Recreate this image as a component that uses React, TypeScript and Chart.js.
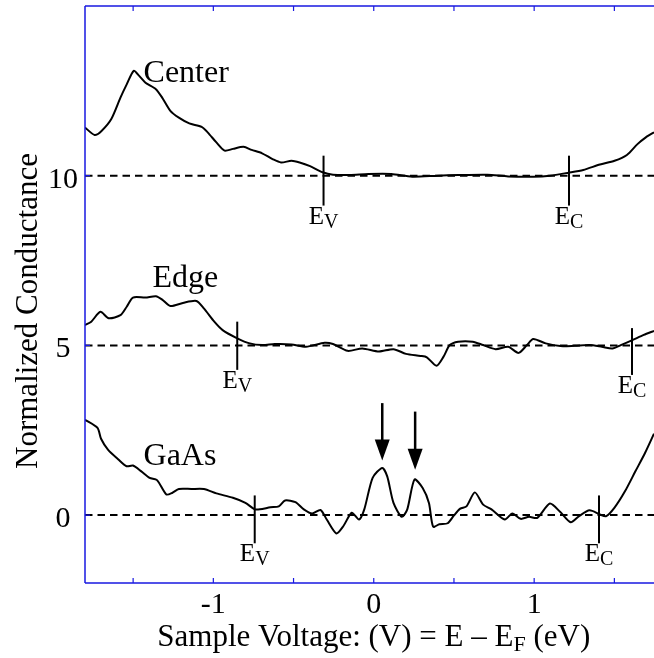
import React, { useEffect, useRef } from "react";
import { Chart, registerables } from "chart.js";

Chart.register(...registerables);

// ---- axis ranges / ticks ----
const X_MIN = -1.8;
const X_MAX = 1.747;
const Y_MIN = -2;
const Y_MAX = 15;
const xTickValues = [-1.5, -1, -0.5, 0, 0.5, 1, 1.5];
const xTickLabels = ["", "-1", "", "0", "", "1", ""];
const yTickValues = [0, 5, 10];
const yTickLabels = ["0", "5", "10"];
const baselineLevels = [0, 5, 10];

// ---- series ----
const centerX = [-1.80, -1.74, -1.697, -1.636, -1.579, -1.54, -1.496, -1.462, -1.423, -1.358, -1.319, -1.268, -1.215, -1.150, -1.073, -1.034, -0.981, -0.930, -0.878, -0.812, -0.761, -0.696, -0.631, -0.578, -0.513, -0.462, -0.397, -0.319, -0.254, -0.150, -0.033, 0.110, 0.240, 0.396, 0.526, 0.708, 0.838, 0.994, 1.098, 1.215, 1.306, 1.410, 1.501, 1.578, 1.644, 1.696, 1.747];
const centerY = [11.42, 11.20, 11.32, 11.67, 12.30, 12.69, 13.09, 12.94, 12.74, 12.55, 12.30, 11.91, 11.71, 11.54, 11.44, 11.27, 10.98, 10.74, 10.79, 10.85, 10.76, 10.66, 10.49, 10.39, 10.44, 10.39, 10.28, 10.10, 10.03, 10.02, 10.05, 10.05, 9.97, 10.00, 10.02, 10.03, 9.98, 9.97, 10.00, 10.09, 10.17, 10.33, 10.44, 10.61, 10.93, 11.13, 11.28];

const edgeX = [-1.80, -1.761, -1.704, -1.652, -1.579, -1.540, -1.501, -1.423, -1.358, -1.319, -1.268, -1.190, -1.106, -1.059, -0.994, -0.942, -0.851, -0.773, -0.695, -0.617, -0.513, -0.423, -0.306, -0.254, -0.163, -0.072, 0.032, 0.123, 0.201, 0.292, 0.331, 0.391, 0.435, 0.474, 0.526, 0.617, 0.682, 0.760, 0.838, 0.903, 0.955, 0.994, 1.072, 1.163, 1.254, 1.345, 1.422, 1.488, 1.540, 1.605, 1.683, 1.747];
const edgeY = [5.60, 5.70, 5.99, 5.80, 5.89, 6.14, 6.41, 6.41, 6.45, 6.35, 6.16, 6.25, 6.31, 6.09, 5.70, 5.45, 5.21, 5.06, 5.01, 5.04, 5.03, 4.96, 5.08, 5.04, 4.84, 4.91, 4.82, 4.89, 4.75, 4.69, 4.65, 4.40, 4.67, 5.01, 5.11, 5.11, 5.01, 4.89, 4.96, 4.78, 5.01, 5.19, 5.06, 4.98, 4.99, 5.01, 4.96, 4.91, 5.01, 5.14, 5.31, 5.43];

const gaasX = [-1.80, -1.722, -1.70, -1.657, -1.592, -1.541, -1.501, -1.449, -1.397, -1.351, -1.293, -1.255, -1.215, -1.137, -1.059, -0.981, -0.878, -0.800, -0.742, -0.709, -0.644, -0.592, -0.553, -0.488, -0.436, -0.384, -0.332, -0.293, -0.233, -0.189, -0.137, -0.092, -0.059, -0.007, 0.053, 0.084, 0.123, 0.175, 0.209, 0.254, 0.305, 0.344, 0.370, 0.409, 0.461, 0.500, 0.539, 0.578, 0.630, 0.682, 0.734, 0.817, 0.864, 0.916, 0.968, 1.020, 1.098, 1.163, 1.228, 1.280, 1.345, 1.410, 1.449, 1.501, 1.566, 1.631, 1.691, 1.747];
const gaasY = [2.81, 2.57, 2.25, 1.93, 1.64, 1.44, 1.46, 1.29, 1.10, 1.03, 0.61, 0.66, 0.77, 0.77, 0.77, 0.64, 0.51, 0.36, 0.17, 0.17, 0.23, 0.26, 0.43, 0.38, 0.17, 0.05, 0.15, -0.13, -0.54, -0.32, 0.07, -0.13, 0.17, 1.10, 1.39, 1.14, 0.36, -0.05, 0.17, 1.05, 0.80, 0.36, -0.34, -0.27, -0.24, -0.01, 0.19, 0.26, 0.67, 0.31, 0.17, -0.13, 0.05, -0.11, -0.05, -0.08, 0.34, 0.09, -0.21, -0.03, 0.14, 0.02, -0.03, 0.22, 0.70, 1.29, 1.83, 2.40];

// ---- annotations ----
const curveNames = ["Center", "Edge", "GaAs"];
const curveNameX = [-1.435, -1.379, -1.435];
const curveNameY = [12.76, 6.71, 1.49];

const markerSub = ["V", "C", "V", "C", "V", "C"];
const markerX = [-0.313, 1.217, -0.851, 1.610, -0.742, 1.404];
const markerTop = [10.59, 10.59, 5.70, 5.51, 0.58, 0.58];
const markerBottom = [9.12, 9.12, 4.28, 4.13, -0.83, -0.83];

const arrowX = [0.053, 0.258];
const arrowTop = [3.30, 3.05];
const arrowTip = [1.61, 1.34];

const xTitleMain = "Sample Voltage: (V) = E \u2013 E";
const xTitleSub = "F";
const xTitleEnd = " (eV)";
const yTitle = "Normalized Conductance";

const AXIS_BLUE = "rgb(25,25,225)";
const SERIF = '"Liberation Serif", "Times New Roman", serif';

const toPts = (xs: number[], ys: number[]) => xs.map((x, i) => ({ x, y: ys[i] }));

const overlayPlugin = {
  id: "overlay",
  afterDraw(chart: any) {
    const { ctx, chartArea, scales } = chart;
    const xs = scales.x;
    const ys = scales.y;
    const px = (v: number) => xs.getPixelForValue(v);
    const py = (v: number) => ys.getPixelForValue(v);
    ctx.save();

    // axes (left, top, bottom)
    ctx.strokeStyle = AXIS_BLUE;
    ctx.lineWidth = 1.5;
    ctx.beginPath();
    ctx.moveTo(chartArea.left, chartArea.top);
    ctx.lineTo(chartArea.left, chartArea.bottom);
    ctx.moveTo(chartArea.left, chartArea.top);
    ctx.lineTo(chartArea.right, chartArea.top);
    ctx.moveTo(chartArea.left, chartArea.bottom);
    ctx.lineTo(chartArea.right, chartArea.bottom);
    ctx.stroke();
    ctx.lineWidth = 1.2;
    ctx.beginPath();
    xTickValues.forEach((v) => {
      const x = px(v);
      ctx.moveTo(x, chartArea.bottom);
      ctx.lineTo(x, chartArea.bottom - 5);
      ctx.moveTo(x, chartArea.top);
      ctx.lineTo(x, chartArea.top + 5);
    });
    yTickValues.forEach((v) => {
      const y = py(v);
      ctx.moveTo(chartArea.left, y);
      ctx.lineTo(chartArea.left + 5, y);
    });
    ctx.stroke();

    // tick labels
    ctx.fillStyle = "#000";
    ctx.font = `30px ${SERIF}`;
    ctx.textAlign = "center";
    ctx.textBaseline = "alphabetic";
    xTickValues.forEach((v, i) => {
      if (xTickLabels[i]) ctx.fillText(xTickLabels[i], px(v), chartArea.bottom + 30);
    });
    yTickValues.forEach((v, i) => {
      ctx.fillText(yTickLabels[i], chartArea.left - 22, py(v) + 12);
    });

    // x title with subscript
    const bigFont = `31px ${SERIF}`;
    const subFont = `22px ${SERIF}`;
    ctx.textAlign = "left";
    ctx.font = bigFont;
    const w1 = ctx.measureText(xTitleMain).width;
    const w3 = ctx.measureText(xTitleEnd).width;
    ctx.font = subFont;
    const w2 = ctx.measureText(xTitleSub).width;
    const total = w1 + w2 + w3;
    const cx = px(0);
    let sx = cx - total / 2;
    const base = chartArea.bottom + 63;
    ctx.font = bigFont;
    ctx.fillText(xTitleMain, sx, base);
    sx += w1;
    ctx.font = subFont;
    ctx.fillText(xTitleSub, sx, base + 5);
    sx += w2;
    ctx.font = bigFont;
    ctx.fillText(xTitleEnd, sx, base);

    // y title
    ctx.save();
    ctx.translate(37, 311);
    ctx.rotate(-Math.PI / 2);
    ctx.textAlign = "center";
    ctx.font = bigFont;
    ctx.fillText(yTitle, 0, 0);
    ctx.restore();

    // curve names
    ctx.font = `32px ${SERIF}`;
    ctx.textAlign = "left";
    curveNames.forEach((n, i) => {
      ctx.fillText(n, px(curveNameX[i]), py(curveNameY[i]));
    });

    // band-edge markers
    ctx.strokeStyle = "#000";
    ctx.lineWidth = 2;
    markerX.forEach((v, i) => {
      const x = px(v);
      ctx.beginPath();
      ctx.moveTo(x, py(markerTop[i]));
      ctx.lineTo(x, py(markerBottom[i]));
      ctx.stroke();
      const eFont = `25px ${SERIF}`;
      const sFont = `20px ${SERIF}`;
      ctx.font = eFont;
      const we = ctx.measureText("E").width;
      ctx.font = sFont;
      const ws = ctx.measureText(markerSub[i]).width;
      const left = x - (we + ws) / 2;
      const b = py(markerBottom[i]) + 18;
      ctx.font = eFont;
      ctx.fillText("E", left, b);
      ctx.font = sFont;
      ctx.fillText(markerSub[i], left + we, b + 4);
    });

    // arrows
    ctx.fillStyle = "#000";
    arrowX.forEach((v, i) => {
      const x = px(v);
      const top = py(arrowTop[i]);
      const tip = py(arrowTip[i]);
      const headH = 21;
      const headW = 15;
      ctx.lineWidth = 2.5;
      ctx.beginPath();
      ctx.moveTo(x, top);
      ctx.lineTo(x, tip - headH + 2);
      ctx.stroke();
      ctx.beginPath();
      ctx.moveTo(x - headW / 2, tip - headH);
      ctx.lineTo(x + headW / 2, tip - headH);
      ctx.lineTo(x, tip);
      ctx.closePath();
      ctx.fill();
    });

    ctx.restore();
  },
};

export default function App() {
  const ref = useRef<HTMLCanvasElement | null>(null);
  useEffect(() => {
    if (!ref.current) return;
    const lineDs = (label: string, xs: number[], ys: number[]) => ({
      label,
      data: toPts(xs, ys),
      showLine: true,
      borderColor: "#000",
      borderWidth: 2,
      pointRadius: 0,
      tension: 0.25,
      fill: false,
    });
    const dashDs = baselineLevels.map((lv) => ({
      label: "base " + lv,
      data: [
        { x: X_MIN, y: lv },
        { x: X_MAX, y: lv },
      ],
      showLine: true,
      borderColor: "#000",
      borderWidth: 2,
      borderDash: [7.5, 5],
      pointRadius: 0,
      fill: false,
    }));
    const chart = new Chart(ref.current, {
      type: "scatter",
      data: {
        datasets: [
          ...dashDs,
          lineDs("Center", centerX, centerY),
          lineDs("Edge", edgeX, edgeY),
          lineDs("GaAs", gaasX, gaasY),
        ] as any,
      },
      options: {
        animation: false,
        responsive: false,
        devicePixelRatio: 1,
        layout: { padding: { left: 85, top: 6, right: 0, bottom: 75 } },
        plugins: { legend: { display: false }, tooltip: { enabled: false } },
        scales: {
          x: { type: "linear", min: X_MIN, max: X_MAX, display: false },
          y: { type: "linear", min: Y_MIN, max: Y_MAX, display: false },
        },
      } as any,
      plugins: [overlayPlugin],
    });
    return () => chart.destroy();
  }, []);
  return (
    <div style={{ position: "absolute", left: 0, top: 0, width: 654, height: 658, background: "#fff" }}>
      <canvas ref={ref} width={654} height={658} style={{ display: "block" }} />
    </div>
  );
}
